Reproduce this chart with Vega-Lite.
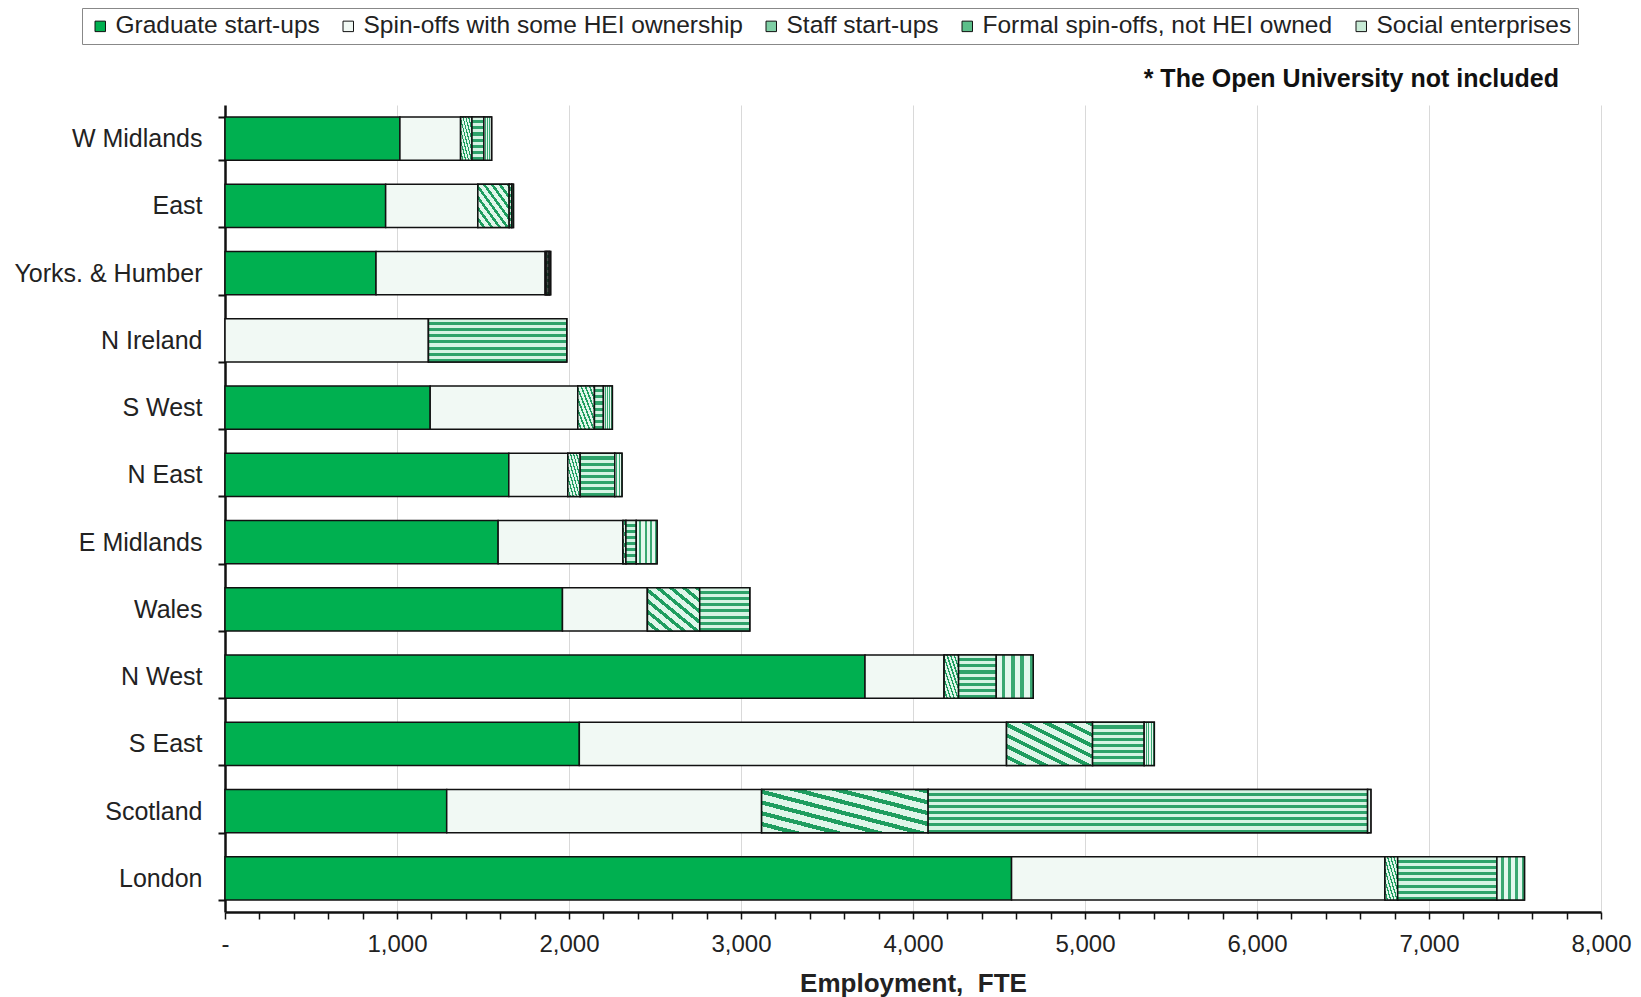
{
  "$schema": "https://vega.github.io/schema/vega-lite/v6.json",
  "autosize": {"type": "none"},
  "width": 1376,
  "height": 807,
  "padding": {"left": 225, "top": 105, "right": 40, "bottom": 85},
  "background": "white",
  "config": {
    "font": "Liberation Sans",
    "view": {"stroke": null}
  },
  "title": {
    "text": "* The Open University not included",
    "anchor": "end",
    "font": "Liberation Sans",
    "fontSize": 25,
    "fontWeight": "bold",
    "color": "#111",
    "dx": -72,
    "dy": 98,
    "offset": 14
  },
  "data": {
    "values": [
      {"region": "W Midlands", "series": "Graduate start-ups", "value": 1017},
      {"region": "W Midlands", "series": "Spin-offs with some HEI ownership", "value": 353},
      {"region": "W Midlands", "series": "Staff start-ups", "value": 66},
      {"region": "W Midlands", "series": "Formal spin-offs, not HEI owned", "value": 69},
      {"region": "W Midlands", "series": "Social enterprises", "value": 45},
      {"region": "East", "series": "Graduate start-ups", "value": 934},
      {"region": "East", "series": "Spin-offs with some HEI ownership", "value": 536},
      {"region": "East", "series": "Staff start-ups", "value": 182},
      {"region": "East", "series": "Formal spin-offs, not HEI owned", "value": 15},
      {"region": "East", "series": "Social enterprises", "value": 10},
      {"region": "Yorks. & Humber", "series": "Graduate start-ups", "value": 878},
      {"region": "Yorks. & Humber", "series": "Spin-offs with some HEI ownership", "value": 984},
      {"region": "Yorks. & Humber", "series": "Staff start-ups", "value": 10},
      {"region": "Yorks. & Humber", "series": "Formal spin-offs, not HEI owned", "value": 12},
      {"region": "Yorks. & Humber", "series": "Social enterprises", "value": 9},
      {"region": "N Ireland", "series": "Spin-offs with some HEI ownership", "value": 1183},
      {"region": "N Ireland", "series": "Formal spin-offs, not HEI owned", "value": 804},
      {"region": "S West", "series": "Graduate start-ups", "value": 1193},
      {"region": "S West", "series": "Spin-offs with some HEI ownership", "value": 858},
      {"region": "S West", "series": "Staff start-ups", "value": 97},
      {"region": "S West", "series": "Formal spin-offs, not HEI owned", "value": 52},
      {"region": "S West", "series": "Social enterprises", "value": 52},
      {"region": "N East", "series": "Graduate start-ups", "value": 1650},
      {"region": "N East", "series": "Spin-offs with some HEI ownership", "value": 343},
      {"region": "N East", "series": "Staff start-ups", "value": 72},
      {"region": "N East", "series": "Formal spin-offs, not HEI owned", "value": 201},
      {"region": "N East", "series": "Social enterprises", "value": 42},
      {"region": "E Midlands", "series": "Graduate start-ups", "value": 1588},
      {"region": "E Midlands", "series": "Spin-offs with some HEI ownership", "value": 726},
      {"region": "E Midlands", "series": "Staff start-ups", "value": 17},
      {"region": "E Midlands", "series": "Formal spin-offs, not HEI owned", "value": 60},
      {"region": "E Midlands", "series": "Social enterprises", "value": 121},
      {"region": "Wales", "series": "Graduate start-ups", "value": 1962},
      {"region": "Wales", "series": "Spin-offs with some HEI ownership", "value": 494},
      {"region": "Wales", "series": "Staff start-ups", "value": 304},
      {"region": "Wales", "series": "Formal spin-offs, not HEI owned", "value": 291},
      {"region": "N West", "series": "Graduate start-ups", "value": 3721},
      {"region": "N West", "series": "Spin-offs with some HEI ownership", "value": 460},
      {"region": "N West", "series": "Staff start-ups", "value": 84},
      {"region": "N West", "series": "Formal spin-offs, not HEI owned", "value": 219},
      {"region": "N West", "series": "Social enterprises", "value": 215},
      {"region": "S East", "series": "Graduate start-ups", "value": 2060},
      {"region": "S East", "series": "Spin-offs with some HEI ownership", "value": 2484},
      {"region": "S East", "series": "Staff start-ups", "value": 500},
      {"region": "S East", "series": "Formal spin-offs, not HEI owned", "value": 300},
      {"region": "S East", "series": "Social enterprises", "value": 59},
      {"region": "Scotland", "series": "Graduate start-ups", "value": 1289},
      {"region": "Scotland", "series": "Spin-offs with some HEI ownership", "value": 1831},
      {"region": "Scotland", "series": "Staff start-ups", "value": 968},
      {"region": "Scotland", "series": "Formal spin-offs, not HEI owned", "value": 2555},
      {"region": "Scotland", "series": "Social enterprises", "value": 19},
      {"region": "London", "series": "Graduate start-ups", "value": 4573},
      {"region": "London", "series": "Spin-offs with some HEI ownership", "value": 2171},
      {"region": "London", "series": "Staff start-ups", "value": 74},
      {"region": "London", "series": "Formal spin-offs, not HEI owned", "value": 577},
      {"region": "London", "series": "Social enterprises", "value": 160}
    ]
  },
  "transform": [
    {"calculate": "indexof(['Graduate start-ups','Spin-offs with some HEI ownership','Staff start-ups','Formal spin-offs, not HEI owned','Social enterprises'], datum.series)", "as": "order"},
    {"stack": "value", "groupby": ["region"], "sort": [{"field": "order", "order": "ascending"}], "as": ["x0", "x1"]}
  ],
  "encoding": {
    "y": {
      "field": "region",
      "type": "nominal",
      "sort": ["W Midlands", "East", "Yorks. & Humber", "N Ireland", "S West", "N East", "E Midlands", "Wales", "N West", "S East", "Scotland", "London"],
      "scale": {"paddingInner": 0.36, "paddingOuter": 0.18},
      "axis": {
        "title": null,
        "labelFont": "Liberation Sans",
        "labelFontSize": 25,
        "labelColor": "#222",
        "labelPadding": 16,
        "labelLimit": 400,
        "tickBand": "extent",
        "tickColor": "#111",
        "tickWidth": 2,
        "tickSize": 7,
        "domainColor": "#111",
        "domainWidth": 2.5
      }
    },
    "x": {
      "field": "x0",
      "type": "quantitative",
      "scale": {"domain": [0, 8000], "nice": false},
      "axis": {
        "title": "Employment,\u00a0 FTE",
        "titleFont": "Liberation Sans",
        "titleFontSize": 26,
        "titleFontWeight": "bold",
        "titleColor": "#222",
        "titlePadding": 14,
        "values": [0, 200, 400, 600, 800, 1000, 1200, 1400, 1600, 1800, 2000, 2200, 2400, 2600, 2800, 3000, 3200, 3400, 3600, 3800, 4000, 4200, 4400, 4600, 4800, 5000, 5200, 5400, 5600, 5800, 6000, 6200, 6400, 6600, 6800, 7000, 7200, 7400, 7600, 7800, 8000],
        "labelExpr": "datum.value % 1000 != 0 ? '' : (datum.value == 0 ? '-' : format(datum.value, ','))",
        "labelFont": "Liberation Sans",
        "labelFontSize": 24,
        "labelColor": "#222",
        "labelPadding": 13,
        "labelFlush": false,
        "labelOverlap": false,
        "tickColor": "#111",
        "tickWidth": 1.5,
        "tickSize": 7,
        "domainColor": "#111",
        "domainWidth": 2.5,
        "grid": true,
        "gridColor": "#d9d9d9",
        "gridWidth": 1,
        "gridOpacity": {"condition": {"test": "datum.value % 1000 != 0 || datum.value == 0", "value": 0}, "value": 1}
      }
    },
    "x2": {"field": "x1"}
  },
  "layer": [
    {
      "mark": {"type": "bar", "stroke": "#111", "strokeWidth": 1.5},
      "encoding": {
        "color": {
          "field": "series",
          "type": "nominal",
          "scale": {
            "domain": ["Graduate start-ups", "Spin-offs with some HEI ownership", "Staff start-ups", "Formal spin-offs, not HEI owned", "Social enterprises"],
            "range": ["#00b050", "#f1f9f4", "#7fcfa5", "#5cbf8a", "#c8ebd6"]
          },
          "legend": {
            "title": null,
            "orient": "none",
            "legendX": -143,
            "legendY": -97,
            "direction": "horizontal",
            "symbolType": "square",
            "symbolSize": 110,
            "symbolStrokeColor": "#111",
            "symbolStrokeWidth": 1,
            "symbolOpacity": 1,
            "labelFont": "Liberation Sans",
            "labelFontSize": 24.5,
            "labelColor": "#222",
            "labelLimit": 500,
            "labelOffset": 3,
            "columnPadding": 16,
            "strokeColor": "#888",
            "fillColor": "white",
            "padding": 6
          }
        }
      }
    },
    {
      "transform": [{"filter": "datum.series == 'Staff start-ups'"}],
      "mark": {
        "type": "bar",
        "stroke": "#111",
        "strokeWidth": 1.5,
        "fill": {
          "gradient": "linear", "x1": 0, "y1": 1, "x2": 1, "y2": 0,
          "stops": [
            {"offset": 0, "color": "#dff6ea"}, {"offset": 0.075, "color": "#dff6ea"},
            {"offset": 0.075, "color": "#1e9d5f"}, {"offset": 0.125, "color": "#1e9d5f"},
            {"offset": 0.125, "color": "#dff6ea"}, {"offset": 0.2, "color": "#dff6ea"},
            {"offset": 0.2, "color": "#1e9d5f"}, {"offset": 0.25, "color": "#1e9d5f"},
            {"offset": 0.25, "color": "#dff6ea"}, {"offset": 0.325, "color": "#dff6ea"},
            {"offset": 0.325, "color": "#1e9d5f"}, {"offset": 0.375, "color": "#1e9d5f"},
            {"offset": 0.375, "color": "#dff6ea"}, {"offset": 0.45, "color": "#dff6ea"},
            {"offset": 0.45, "color": "#1e9d5f"}, {"offset": 0.5, "color": "#1e9d5f"},
            {"offset": 0.5, "color": "#dff6ea"}, {"offset": 0.575, "color": "#dff6ea"},
            {"offset": 0.575, "color": "#1e9d5f"}, {"offset": 0.625, "color": "#1e9d5f"},
            {"offset": 0.625, "color": "#dff6ea"}, {"offset": 0.7, "color": "#dff6ea"},
            {"offset": 0.7, "color": "#1e9d5f"}, {"offset": 0.75, "color": "#1e9d5f"},
            {"offset": 0.75, "color": "#dff6ea"}, {"offset": 0.825, "color": "#dff6ea"},
            {"offset": 0.825, "color": "#1e9d5f"}, {"offset": 0.875, "color": "#1e9d5f"},
            {"offset": 0.875, "color": "#dff6ea"}, {"offset": 0.95, "color": "#dff6ea"},
            {"offset": 0.95, "color": "#1e9d5f"}, {"offset": 1, "color": "#1e9d5f"}
          ]
        }
      }
    },
    {
      "transform": [{"filter": "datum.series == 'Formal spin-offs, not HEI owned'"}],
      "mark": {
        "type": "bar",
        "stroke": "#111",
        "strokeWidth": 1.5,
        "fill": {
          "gradient": "linear", "x1": 0, "y1": 0, "x2": 0, "y2": 1,
          "stops": [
            {"offset": 0, "color": "#d6f4e4"}, {"offset": 0.0714, "color": "#d6f4e4"},
            {"offset": 0.0714, "color": "#2ea36a"}, {"offset": 0.1429, "color": "#2ea36a"},
            {"offset": 0.1429, "color": "#d6f4e4"}, {"offset": 0.2143, "color": "#d6f4e4"},
            {"offset": 0.2143, "color": "#2ea36a"}, {"offset": 0.2857, "color": "#2ea36a"},
            {"offset": 0.2857, "color": "#d6f4e4"}, {"offset": 0.3571, "color": "#d6f4e4"},
            {"offset": 0.3571, "color": "#2ea36a"}, {"offset": 0.4286, "color": "#2ea36a"},
            {"offset": 0.4286, "color": "#d6f4e4"}, {"offset": 0.5, "color": "#d6f4e4"},
            {"offset": 0.5, "color": "#2ea36a"}, {"offset": 0.5714, "color": "#2ea36a"},
            {"offset": 0.5714, "color": "#d6f4e4"}, {"offset": 0.6429, "color": "#d6f4e4"},
            {"offset": 0.6429, "color": "#2ea36a"}, {"offset": 0.7143, "color": "#2ea36a"},
            {"offset": 0.7143, "color": "#d6f4e4"}, {"offset": 0.7857, "color": "#d6f4e4"},
            {"offset": 0.7857, "color": "#2ea36a"}, {"offset": 0.8571, "color": "#2ea36a"},
            {"offset": 0.8571, "color": "#d6f4e4"}, {"offset": 0.9286, "color": "#d6f4e4"},
            {"offset": 0.9286, "color": "#2ea36a"}, {"offset": 1, "color": "#2ea36a"}
          ]
        }
      }
    },
    {
      "transform": [{"filter": "datum.series == 'Social enterprises'"}],
      "mark": {
        "type": "bar",
        "stroke": "#111",
        "strokeWidth": 1.5,
        "fill": {
          "gradient": "linear", "x1": 0, "y1": 0, "x2": 1, "y2": 0,
          "stops": [
            {"offset": 0, "color": "#e4f8ee"}, {"offset": 0.15, "color": "#e4f8ee"},
            {"offset": 0.15, "color": "#3aa872"}, {"offset": 0.25, "color": "#3aa872"},
            {"offset": 0.25, "color": "#e4f8ee"}, {"offset": 0.4, "color": "#e4f8ee"},
            {"offset": 0.4, "color": "#3aa872"}, {"offset": 0.5, "color": "#3aa872"},
            {"offset": 0.5, "color": "#e4f8ee"}, {"offset": 0.65, "color": "#e4f8ee"},
            {"offset": 0.65, "color": "#3aa872"}, {"offset": 0.75, "color": "#3aa872"},
            {"offset": 0.75, "color": "#e4f8ee"}, {"offset": 0.9, "color": "#e4f8ee"},
            {"offset": 0.9, "color": "#3aa872"}, {"offset": 1, "color": "#3aa872"}
          ]
        }
      }
    }
  ]
}
